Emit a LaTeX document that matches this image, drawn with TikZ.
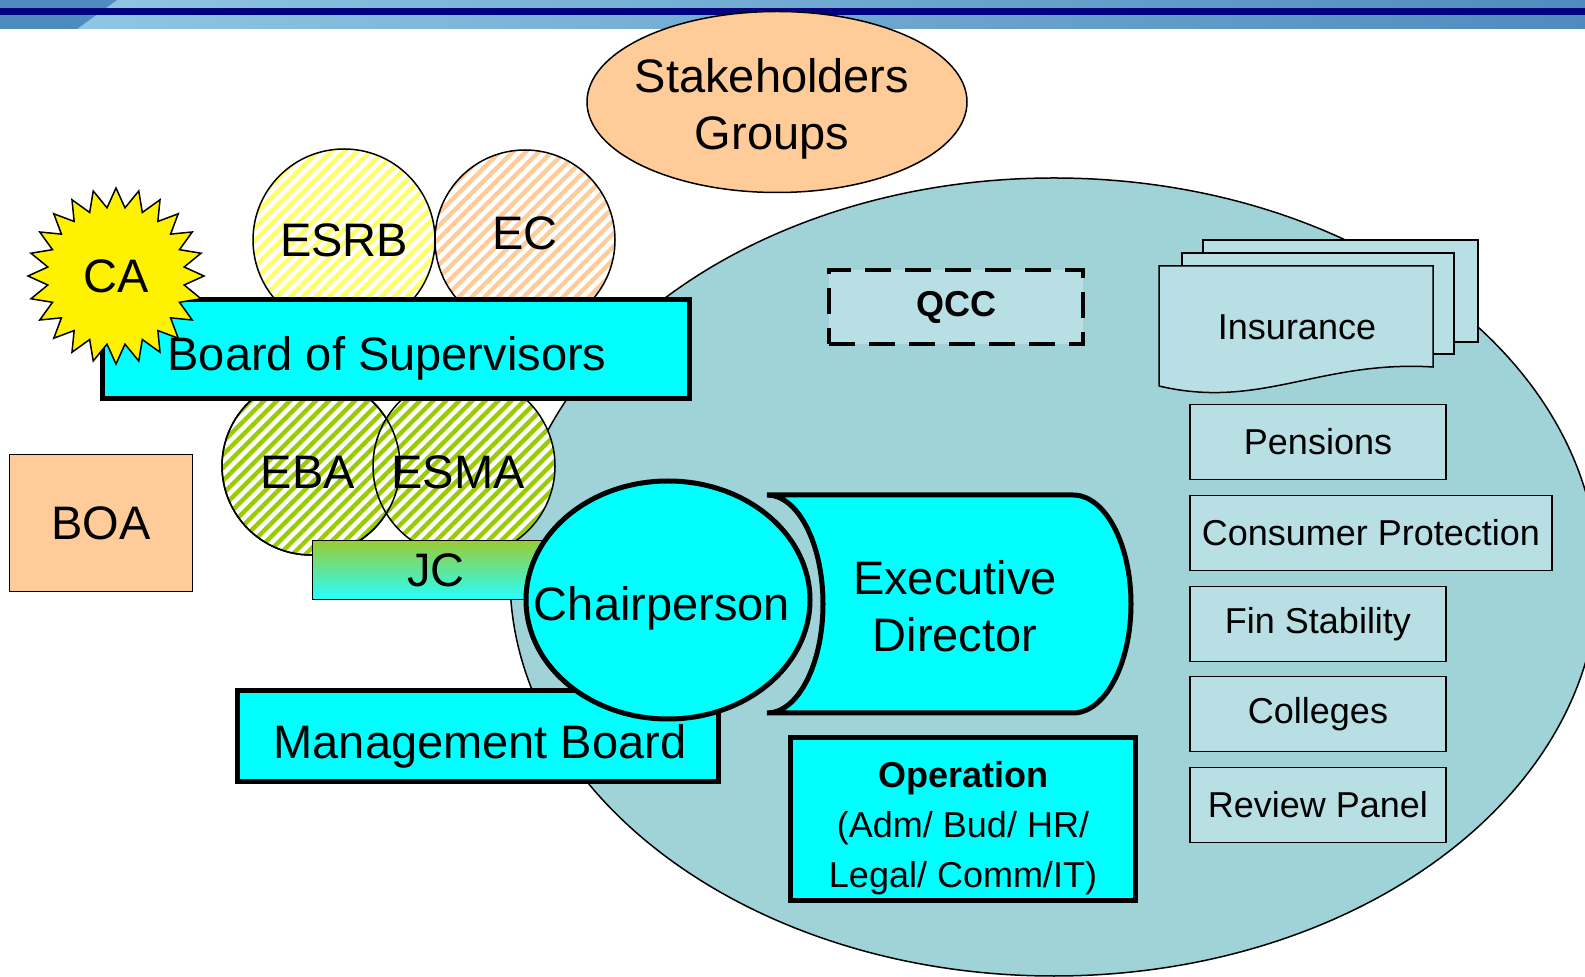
\documentclass[tikz,border=0pt]{standalone}
\usepackage{fontspec}
\setmainfont{Liberation Sans}
\usetikzlibrary{shapes.geometric,patterns.meta}

\definecolor{aqua}{HTML}{00FFFF}
\definecolor{peach}{HTML}{FFCC99}
\definecolor{lagoon}{HTML}{A0D3D8}
\definecolor{paleteal}{HTML}{B8E0E4}
\definecolor{hatchyellow}{HTML}{FFFF66}
\definecolor{hatchgreen}{HTML}{99CC00}
\definecolor{jcgreen}{HTML}{99CC33}
\definecolor{barnavy}{HTML}{000080}
\definecolor{barlight}{HTML}{92C9E4}
\definecolor{bardeep}{HTML}{4F8BBE}
\definecolor{barshade}{HTML}{4E8CC0}

\newcommand{\orgbig}{\fontsize{23.5pt}{28.5pt}\selectfont}
\newcommand{\orgsmall}{\fontsize{18pt}{25pt}\selectfont}

\begin{document}
\begin{tikzpicture}[x=0.5pt, y=-0.5pt,
	big/.style={font=\orgbig},
	lbl/.style={font=\orgbig, text depth=0pt},
	hatched/.style={ellipse, draw, line width=0.75pt, inner sep=0pt, preaction={fill=white}, pattern={Lines[angle=45,distance=4.6pt,line width=2.2pt]}},
	thickbox/.style={rectangle, draw, line width=2.5pt, fill=aqua, inner sep=0pt, font=\orgbig},
	unit/.style={rectangle, draw, line width=0.8pt, fill=paleteal, minimum width=128pt, minimum height=37.5pt, inner sep=0pt, font=\orgsmall}]
	\useasboundingbox (0,0) rectangle (1585,977);
	\clip (0,0) rectangle (1585,977);
	\fill[white] (0,0) rectangle (1585,977);
	
	\shade[left color=barlight, right color=bardeep] (0,0) rectangle (1585,29);
	\fill[barshade] (0,0) -- (117,0) -- (77,29) -- (0,29) -- cycle;
	\fill[barnavy] (0,8) rectangle (1585,15);
	
	\node[ellipse, draw, fill=peach, line width=0.75pt, minimum width=190pt, minimum height=90.5pt, inner sep=0pt] (stake) at (777,102) {};
	\node[big, align=center] (stakelbl) at (772,109) {Stakeholders\\Groups};
	
	\node[ellipse, draw, fill=lagoon, line width=0.75pt, minimum width=544pt, minimum height=399pt, inner sep=0pt] (agency) at (1054,577) {};
	
	\node[hatched, pattern color=hatchyellow, minimum size=91pt, label={[lbl]center:ESRB}] (esrb) at (344,240) {};
	\node[hatched, pattern color=peach, minimum size=90pt, label={[lbl, yshift=3.5pt]center:EC}] (ec) at (525,240) {};
	\node[hatched, pattern color=hatchgreen, minimum size=89pt] (eba) at (311,466) {};
	\node[hatched, pattern color=hatchgreen, minimum size=91pt] (esma) at (464,466) {};
	\draw[line width=0.75pt] (eba.center) circle [radius=44.5pt];
	\node[lbl] (ebalbl) at (308,472) {EBA};
	\node[lbl] (esmalbl) at (458,472) {ESMA};
	
	\node[draw, line width=0.75pt, top color=jcgreen, bottom color=aqua!85!white, minimum width=123.5pt, minimum height=29.5pt, inner sep=0pt, lbl] (jc) at (436,570) {JC};
	
	\node[thickbox, minimum width=293.5pt, minimum height=49.5pt, label={[lbl, xshift=-4.5pt, yshift=-2pt]center:Board of Supervisors}] (bos) at (396,349) {};
	\node[star, star points=24, star point ratio=1.28, draw, fill=yellow, line width=0.75pt, minimum size=88pt, inner sep=0pt, lbl] (ca) at (116,276) {CA};
	
	\node[draw, fill=peach, line width=0.75pt, minimum width=91.5pt, minimum height=68.5pt, inner sep=0pt, lbl] (boa) at (101,523) {BOA};
	
	\node[draw, dash pattern=on 13pt off 7pt, line width=2pt, fill=paleteal, minimum width=127pt, minimum height=37pt, inner sep=0pt, font=\orgsmall\bfseries] (qcc) at (956,307) {QCC};
	
	\filldraw[fill=paleteal, line width=0.75pt] (1203,240) rectangle (1478,342);
	\filldraw[fill=paleteal, line width=0.75pt] (1182,253) rectangle (1454,354);
	\filldraw[fill=paleteal, line width=0.75pt] (1159,266) -- (1433,266) -- (1433,367) .. controls (1320,360) and (1260,410) .. (1159,386) -- cycle;
	\node[font=\orgsmall] (ins) at (1297,327) {Insurance};
	
	\node[unit] (pens) at (1318,442) {Pensions};
	\node[unit, minimum width=181pt] (cons) at (1371,533) {Consumer Protection};
	\node[unit] (fins) at (1318,624) {Fin Stability};
	\node[unit] (coll) at (1318,714) {Colleges};
	\node[unit] (revw) at (1318,805) {Review Panel};
	
	\node[thickbox, minimum width=240.5pt, minimum height=45.5pt, label={[lbl, xshift=1pt, yshift=-2.5pt]center:Management Board}] (mb) at (478,736) {};
	\node[ellipse, draw, fill=aqua, line width=2.5pt, minimum width=142pt, minimum height=119pt, inner sep=0pt, label={[lbl, xshift=-3pt, yshift=-1.75pt]center:Chairperson}] (chair) at (668,600) {};
	
	\filldraw[fill=aqua, line width=2.5pt] (767,495) -- (1073,495) arc[start angle=90, end angle=-90, x radius=29pt, y radius=54.5pt] -- (767,713) arc[start angle=-90, end angle=90, x radius=28pt, y radius=54.5pt] -- cycle;
	\node[big, align=center] (exec) at (955,606) {Executive\\Director};
	
	\node[thickbox, minimum width=172.5pt, minimum height=81pt, label={[font=\orgsmall, align=center, yshift=-4.5pt]center:{\textbf{Operation}\\(Adm/ Bud/ HR/\\Legal/ Comm/IT)}}] (oper) at (963,819) {};
\end{tikzpicture}
\end{document}
